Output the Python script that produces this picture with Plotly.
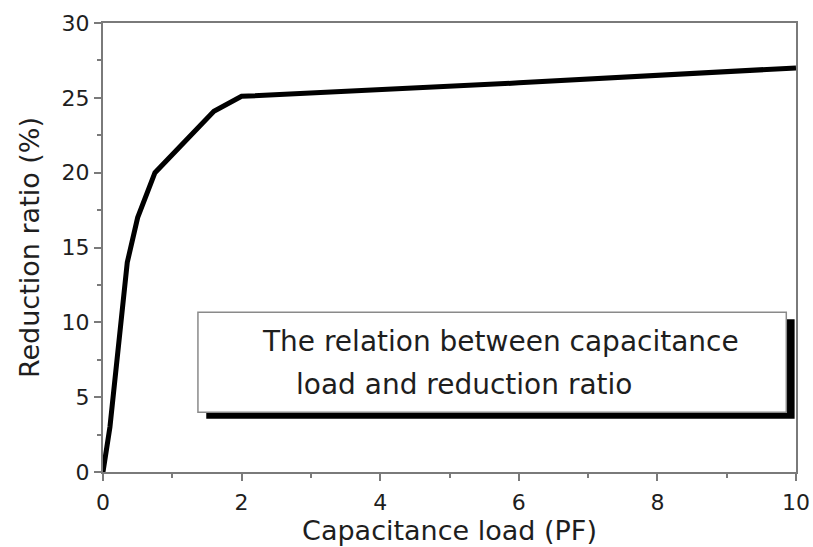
import plotly.graph_objects as go

# Capacitance load (PF) and the resulting reduction ratio (%)
capacitance_pf = [0, 0.1, 0.35, 0.5, 0.75, 1.6, 2, 6, 10]
reduction_pct = [0, 3, 14, 17, 20, 24.1, 25.1, 26, 27]

x_ticks = [0, 2, 4, 6, 8, 10]
y_ticks = [0, 5, 10, 15, 20, 25, 30]

note_lines = ["The relation between capacitance", "load and reduction ratio"]

axis_grey = "#7a7a7a"
text_color = "#1e1e1e"
font_family = "DejaVu Sans, sans-serif"

fig = go.Figure()
fig.add_trace(go.Scatter(
    x=capacitance_pf, y=reduction_pct, mode="lines",
    line=dict(color="black", width=5), showlegend=False, hoverinfo="skip",
))

common_axis = dict(
    showgrid=False, zeroline=False, showline=True, linecolor=axis_grey,
    linewidth=2, mirror=True, ticks="outside", ticklen=7, tickwidth=2,
    tickcolor=axis_grey, tickfont=dict(size=22, color=text_color, family=font_family),
    automargin=False, ticklabeloverflow="allow",
)

fig.update_xaxes(
    range=[0, 10], tickvals=x_ticks, ticktext=[str(v) for v in x_ticks],
    minor=dict(dtick=1, ticks="outside", ticklen=4, tickwidth=2, tickcolor=axis_grey),
    ticklabelstandoff=3,
    title=dict(text="Capacitance load (PF)", standoff=2,
               font=dict(size=27, color=text_color, family=font_family)),
    **common_axis,
)
fig.update_yaxes(
    range=[0, 30], tickvals=y_ticks, ticktext=[str(v) for v in y_ticks],
    minor=dict(dtick=2.5, ticks="outside", ticklen=4, tickwidth=2, tickcolor=axis_grey),
    title=dict(text="Reduction ratio (%)", standoff=14,
               font=dict(size=27, color=text_color, family=font_family)),
    **common_axis,
)

# Caption box with a drop shadow
fig.add_shape(type="rect", xref="x", yref="y", x0=1.49, x1=9.98, y0=3.55, y1=10.2,
              fillcolor="black", line=dict(width=0), layer="above")
fig.add_shape(type="rect", xref="x", yref="y", x0=1.37, x1=9.86, y0=4.0, y1=10.67,
              fillcolor="white", line=dict(color="#8a8a8a", width=1.5), layer="above")

fig.add_annotation(x=2.27, y=8.75, xref="x", yref="y", text=note_lines[0],
                   showarrow=False, xanchor="left", yanchor="middle",
                   font=dict(size=28, color=text_color, family=font_family))
fig.add_annotation(x=2.75, y=5.85, xref="x", yref="y", text=note_lines[1],
                   showarrow=False, xanchor="left", yanchor="middle",
                   font=dict(size=28, color=text_color, family=font_family))

fig.update_layout(
    width=813, height=547,
    margin=dict(l=103, r=17, t=23, b=75),
    paper_bgcolor="white", plot_bgcolor="white",
)

fig.write_html("out.html")
